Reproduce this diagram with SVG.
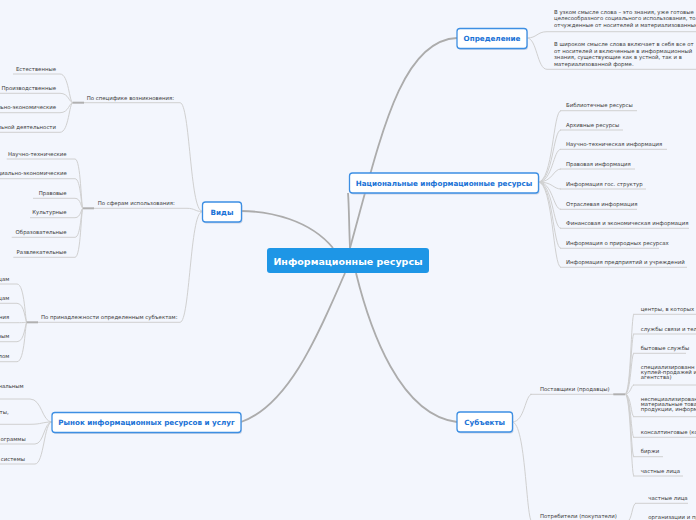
<svg xmlns="http://www.w3.org/2000/svg" width="696" height="520" viewBox="0 0 696 520">
<style>
.bg{fill:#f3f6fd}
.c{fill:none;stroke:#acacac;stroke-width:1.8}
.l{fill:none;stroke:#d0d0d0;stroke-width:1}
.h{fill:none;stroke:#b0b0b0;stroke-width:2}
.nb{fill:#fff;stroke:#3d8fe3;stroke-width:1.3}
.sh{fill:#aebbd3;opacity:.55}
.nt{font-family:"DejaVu Sans",Verdana,sans-serif;font-weight:bold;font-size:7.2px;fill:#1a72d6;text-anchor:middle}
.t{font-family:"DejaVu Sans",Verdana,sans-serif;font-size:5.4px;fill:#3c3c3c}
.r{text-anchor:end}
</style>
<rect class="bg" x="0" y="0" width="696" height="520"/>

<g id="connectors">
  <path class="c" d="M350,248 C380,140 400,40 457,38"/>
  <path class="c" d="M350,248 C349,225 349,205 348,193"/>
  <path class="c" d="M333,248 C310,220 270,211 241,211"/>
  <path class="c" d="M345,273 C320,330 290,405 241,422"/>
  <path class="c" d="M356,273 C370,330 400,415 457,422"/>
  <!-- Определение -->
  <path class="l" d="M527,38 C537,38 537,31.7 547,31.7"/>
  <path class="l" d="M527,38 C537,38 537,69.3 547,69.3"/>
  <!-- Национальные -->
  <path class="l" d="M538,182 C553,182 553,110.7 561,110.7"/>
  <path class="l" d="M538,182 C553,182 553,130 561,130"/>
  <path class="l" d="M538,182 C553,182 553,149.3 561,149.3"/>
  <path class="l" d="M538,182 C553,182 553,169 561,169"/>
  <path class="l" d="M538,182 C553,182 553,189 561,189"/>
  <path class="l" d="M538,182 C553,182 553,209.3 561,209.3"/>
  <path class="l" d="M538,182 C553,182 553,228.3 561,228.3"/>
  <path class="l" d="M538,182 C553,182 553,248.3 561,248.3"/>
  <path class="l" d="M538,182 C553,182 553,267.3 561,267.3"/>
  <!-- Виды -->
  <path class="l" d="M202,211 C190,211 190,102.7 180,102.7"/>
  <path class="l" d="M202,211.5 C195,211.5 195,208.3 187,208.3"/>
  <path class="l" d="M202,212 C190,212 190,322.3 180,322.3"/>
  <path class="l" d="M60,74 C69,74 69,102.7 73,102.7"/>
  <path class="l" d="M60,93.3 C69,93.3 69,102.7 73,102.7"/>
  <path class="l" d="M60,112.7 C69,112.7 69,102.7 73,102.7"/>
  <path class="l" d="M60,132.3 C69,132.3 69,102.7 73,102.7"/>
  <path class="l" d="M75,159 C81,159 81,208.3 83,208.3"/>
  <path class="l" d="M75,178.7 C81,178.7 81,208.3 83,208.3"/>
  <path class="l" d="M75,198.3 C81,198.3 81,208.3 83,208.3"/>
  <path class="l" d="M75,217.7 C81,217.7 81,208.3 83,208.3"/>
  <path class="l" d="M75,237.3 C81,237.3 81,208.3 83,208.3"/>
  <path class="l" d="M75,257.3 C81,257.3 81,208.3 83,208.3"/>
  <path class="l" d="M17,284 C25,284 25,322.3 27,322.3"/>
  <path class="l" d="M17,303.3 C25,303.3 25,322.3 27,322.3"/>
  <path class="l" d="M17,322.7 C25,322.7 25,322.3 27,322.3"/>
  <path class="l" d="M17,341.7 C25,341.7 25,322.3 27,322.3"/>
  <path class="l" d="M17,361.7 C25,361.7 25,322.3 27,322.3"/>
  <!-- Рынок -->
  <path class="l" d="M30,399 C42,399 42,422 52,422"/>
  <path class="l" d="M30,424.3 C42,424.3 42,422 52,422"/>
  <path class="l" d="M35,444 C44,444 44,422 52,422"/>
  <path class="l" d="M35,464 C44,464 44,422 52,422"/>
  <!-- Субъекты -->
  <path class="l" d="M512,422 C525,422 525,394.3 532,394.3"/>
  <path class="l" d="M512,422 C526,422 526,521.5 532,521.5"/>
  <path class="l" d="M625,394 C631,394 631,314.3 634,314.3"/>
  <path class="l" d="M625,394 C631,394 631,334 634,334"/>
  <path class="l" d="M625,394 C631,394 631,353.3 634,353.3"/>
  <path class="l" d="M625,394 C631,394 631,385 634,385"/>
  <path class="l" d="M625,394 C631,394 631,416.7 634,416.7"/>
  <path class="l" d="M625,394 C631,394 631,437.3 634,437.3"/>
  <path class="l" d="M625,394 C631,394 631,456.7 634,456.7"/>
  <path class="l" d="M625,394 C631,394 631,476 634,476"/>
  <path class="l" d="M627,521.5 C632,521.5 632,503.3 636,503.3"/>
</g>

<g id="center">
  <rect x="267" y="248" width="162" height="25" rx="3" fill="#1e96e6"/>
  <text x="348" y="264.5" font-family="DejaVu Sans,Verdana,sans-serif" font-weight="bold" font-size="9.5" fill="#fff" text-anchor="middle">Информационные ресурсы</text>
</g>

<g id="opredelenie">
  <rect class="sh" x="458" y="30" width="70" height="20" rx="3"/>
  <rect class="nb" x="457" y="28.5" width="70" height="20" rx="3"/>
  <text class="nt" x="492" y="41">Определение</text>
</g>
<g id="opr-1">
  <path class="l" d="M547,31.7 H696"/>
  <text class="t" x="554" y="14">В узком смысле слова – это знания, уже готовые</text>
  <text class="t" x="554" y="20.3">целесообразного социального использования, то</text>
  <text class="t" x="554" y="26.6">отчужденные от носителей и материализованные</text>
</g>
<g id="opr-2">
  <path class="l" d="M547,69.3 H696"/>
  <text class="t" x="554" y="46">В широком смысле слова включает в себя все от</text>
  <text class="t" x="554" y="52.6">от носителей и включенные в информационный</text>
  <text class="t" x="554" y="59.2">знания, существующие как в устной, так и в</text>
  <text class="t" x="554" y="65.8">материализованной форме.</text>
</g>

<g id="nacionalnye">
  <rect class="sh" x="350.5" y="174.5" width="189" height="20" rx="3"/>
  <rect class="nb" x="349.5" y="173" width="189" height="20" rx="3"/>
  <text class="nt" x="444" y="185.5">Национальные информационные ресурсы</text>
</g>
<g id="nac-items">
  <path class="l" d="M560,110.7 H637"/><text class="t" x="566" y="107.2">Библиотечные ресурсы</text>
  <path class="l" d="M560,130 H623"/><text class="t" x="566" y="126.5">Архивные ресурсы</text>
  <path class="l" d="M560,149.3 H667"/><text class="t" x="566" y="145.8">Научно-техническая информация</text>
  <path class="l" d="M560,169 H635"/><text class="t" x="566" y="165.5">Правовая информация</text>
  <path class="l" d="M560,189 H646"/><text class="t" x="566" y="185.5">Информация гос. структур</text>
  <path class="l" d="M560,209.3 H637"/><text class="t" x="566" y="205.8">Отраслевая информация</text>
  <path class="l" d="M560,228.3 H689"/><text class="t" x="566" y="224.8">Финансовая и экономическая информация</text>
  <path class="l" d="M560,248.3 H659"/><text class="t" x="566" y="244.8">Информация о природных ресурсах</text>
  <path class="l" d="M560,267.3 H687"/><text class="t" x="566" y="263.8">Информация предприятий и учреждений</text>
</g>

<g id="vidy">
  <rect class="sh" x="203.5" y="203.5" width="39" height="20" rx="3"/>
  <rect class="nb" x="202.5" y="202" width="39" height="20" rx="3"/>
  <text class="nt" x="222" y="214.5">Виды</text>
</g>
<g id="vidy-1">
  <path class="l" d="M83,102.7 H180"/>
  <path class="h" d="M72.7,102.7 H84"/>
  <text class="t" x="86.7" y="99.5">По специфике возникновения:</text>
  <path class="l" d="M13,74 H60"/><text class="t r" x="56" y="70.5">Естественные</text>
  <path class="l" d="M0,93.3 H60"/><text class="t r" x="56" y="89.8">Производственные</text>
  <path class="l" d="M0,112.7 H60"/><text class="t r" x="56" y="109.2">льно-экономические</text>
  <path class="l" d="M0,132.3 H60"/><text class="t r" x="56" y="128.8">льной деятельности</text>
</g>
<g id="vidy-2">
  <path class="l" d="M93,208.3 H187"/>
  <path class="h" d="M83,208.3 H94"/>
  <text class="t" x="97.7" y="204.8">По сферам использования:</text>
  <path class="l" d="M6.7,159 H75"/><text class="t r" x="66.7" y="155.5">Научно-технические</text>
  <path class="l" d="M0,178.7 H75"/><text class="t r" x="66.7" y="175.2">циально-экономические</text>
  <path class="l" d="M33,198.3 H75"/><text class="t r" x="66.7" y="194.8">Правовые</text>
  <path class="l" d="M30,217.7 H75"/><text class="t r" x="66.7" y="214.2">Культурные</text>
  <path class="l" d="M11.7,237.3 H75"/><text class="t r" x="66.7" y="233.8">Образовательные</text>
  <path class="l" d="M13.3,257.3 H75"/><text class="t r" x="66.7" y="253.8">Развлекательные</text>
</g>
<g id="vidy-3">
  <path class="l" d="M37,322.3 H180"/>
  <path class="h" d="M26.7,322.3 H38"/>
  <text class="t" x="41" y="318.8">По принадлежности определенным субъектам:</text>
  <path class="l" d="M0,284 H17"/><text class="t r" x="9.3" y="280.5">цам</text>
  <path class="l" d="M0,303.3 H17"/><text class="t r" x="9.3" y="299.8">цам</text>
  <path class="l" d="M0,322.7 H17"/><text class="t r" x="9.3" y="319.2">ния</text>
  <path class="l" d="M0,341.7 H17"/><text class="t r" x="9.3" y="338.2">ным</text>
  <path class="l" d="M0,361.7 H17"/><text class="t r" x="9.3" y="358.2">лом</text>
</g>

<g id="rynok">
  <rect class="sh" x="53" y="414" width="189" height="20" rx="3"/>
  <rect class="nb" x="52" y="412.5" width="189" height="20" rx="3"/>
  <text class="nt" x="146.5" y="425">Рынок информационных ресурсов и услуг</text>
</g>
<g id="rynok-items">
  <path class="l" d="M0,399 H30"/><text class="t r" x="23.7" y="387.5">нальным</text>
  <path class="l" d="M0,424.3 H30"/><text class="t r" x="8.7" y="414">ты,</text>
  <path class="l" d="M0,444 H35"/><text class="t r" x="25.7" y="440.5">ограммы</text>
  <path class="l" d="M0,464 H35"/><text class="t r" x="25" y="460.5">системы</text>
</g>

<g id="subekty">
  <rect class="sh" x="458" y="413.5" width="55.5" height="20" rx="3"/>
  <rect class="nb" x="457" y="412" width="55.5" height="20" rx="3"/>
  <text class="nt" x="484.7" y="424.5">Субъекты</text>
</g>
<g id="postavshchiki">
  <path class="l" d="M530,394.3 H614"/>
  <path class="h" d="M613.3,394.3 H625"/>
  <text class="t" x="540" y="390.8">Поставщики (продавцы)</text>
  <path class="l" d="M633,314.3 H696"/><text class="t" x="640.7" y="310.8">центры, в которых</text>
  <path class="l" d="M633,334 H696"/><text class="t" x="640.7" y="330.5">службы связи и тел</text>
  <path class="l" d="M633,353.3 H686"/><text class="t" x="640.7" y="349.8">бытовые службы</text>
  <path class="l" d="M633,385 H696"/>
  <text class="t" x="640.7" y="368.5">специализированн</text>
  <text class="t" x="640.7" y="373.8">куплей-продажей и</text>
  <text class="t" x="640.7" y="379.1">агентства)</text>
  <path class="l" d="M633,416.7 H696"/>
  <text class="t" x="640.7" y="400.8">неспециализирован-</text>
  <text class="t" x="640.7" y="406.1">материальные това</text>
  <text class="t" x="640.7" y="411.4">продукции, информ</text>
  <path class="l" d="M633,437.3 H696"/><text class="t" x="640.7" y="433.8">консалтинговые (ко</text>
  <path class="l" d="M633,456.7 H663"/><text class="t" x="640.7" y="453.2">биржи</text>
  <path class="l" d="M633,476 H683"/><text class="t" x="640.7" y="472.5">частные лица</text>
</g>
<g id="potrebiteli">
  <path class="l" d="M530,521.5 H619"/>
  <path class="h" d="M617,521.5 H627"/>
  <text class="t" x="540" y="518">Потребители (покупатели)</text>
  <path class="l" d="M635,503.3 H688"/><text class="t" x="648.3" y="499.8">частные лица</text>
  <text class="t" x="648.3" y="518.8">организации и пр</text>
</g>
</svg>
